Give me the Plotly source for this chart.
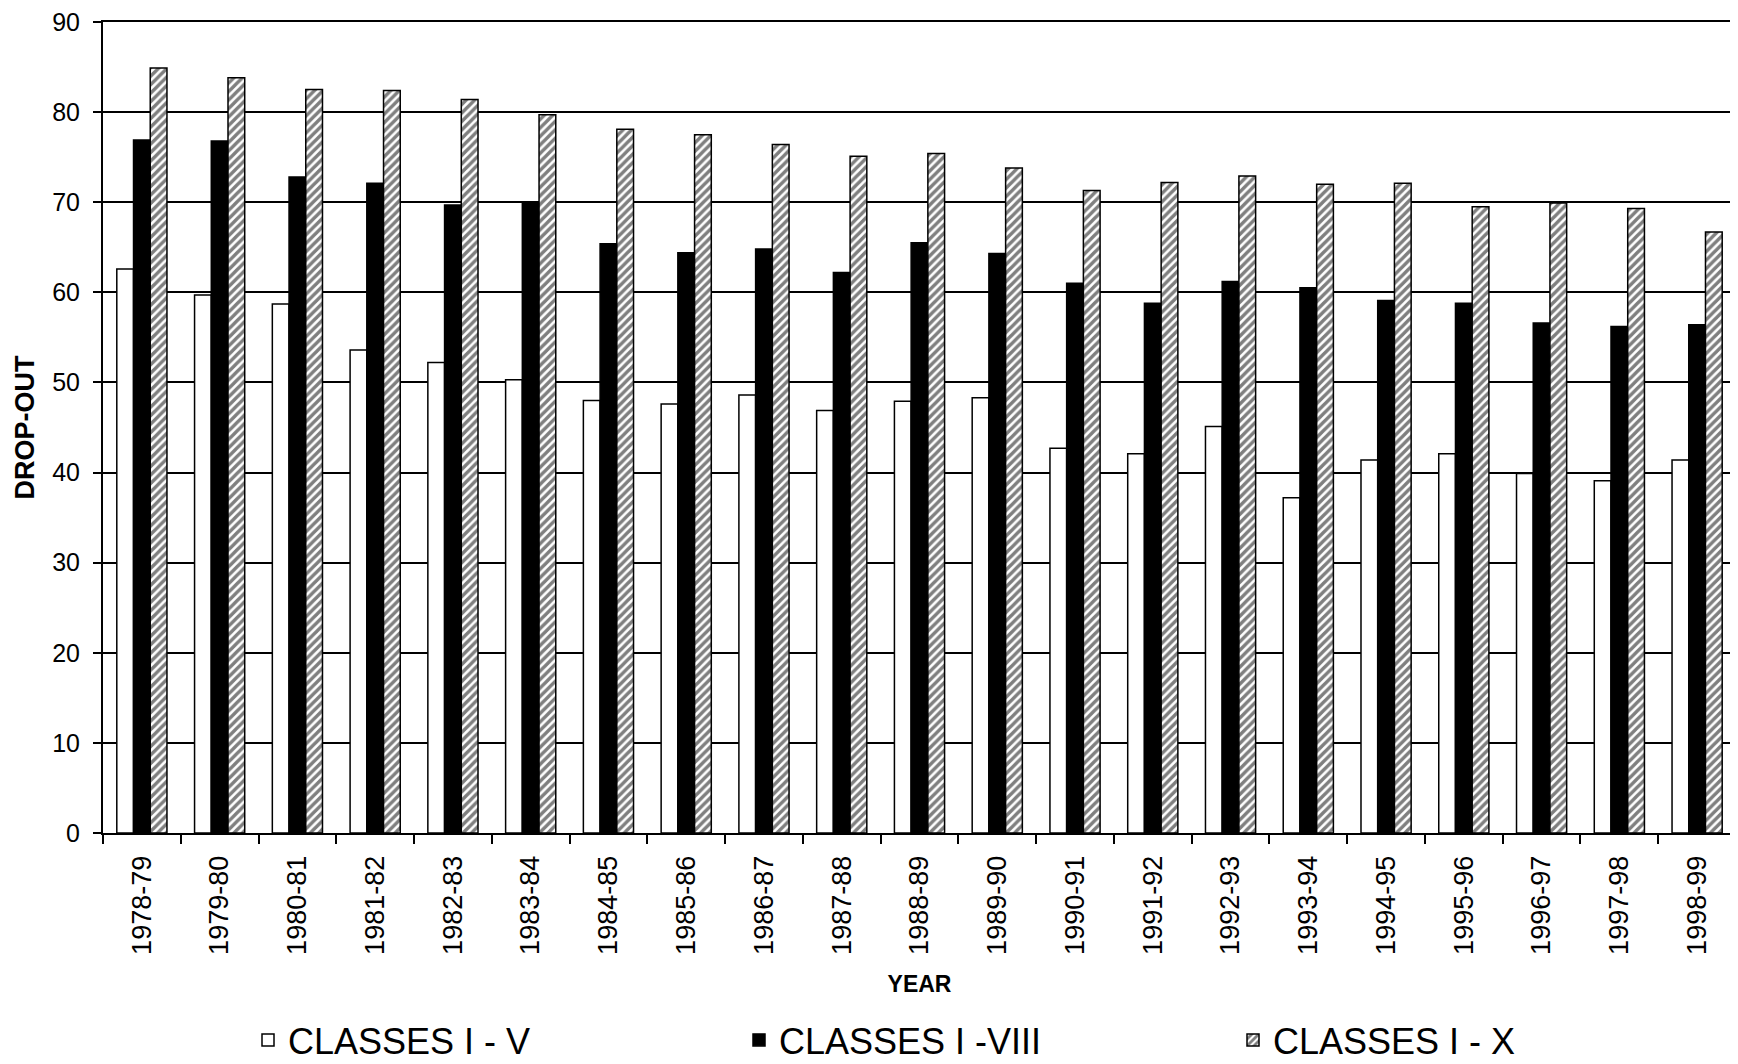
import plotly.graph_objects as go

years = ["1978-79", "1979-80", "1980-81", "1981-82", "1982-83", "1983-84", "1984-85",
         "1985-86", "1986-87", "1987-88", "1988-89", "1989-90", "1990-91", "1991-92",
         "1992-93", "1993-94", "1994-95", "1995-96", "1996-97", "1997-98", "1998-99"]
classes_1_5 = [62.6, 59.7, 58.7, 53.6, 52.2, 50.3, 48.0, 47.6, 48.6, 46.9, 47.9,
               48.3, 42.7, 42.1, 45.1, 37.2, 41.4, 42.1, 39.9, 39.1, 41.4]
classes_1_8 = [76.9, 76.8, 72.8, 72.1, 69.7, 70.0, 65.4, 64.4, 64.8, 62.2, 65.5,
               64.3, 61.0, 58.8, 61.2, 60.5, 59.1, 58.8, 56.6, 56.2, 56.4]
classes_1_10 = [84.9, 83.8, 82.5, 82.4, 81.4, 79.7, 78.1, 77.5, 76.4, 75.1, 75.4,
                73.8, 71.3, 72.2, 72.9, 72.0, 72.1, 69.5, 69.9, 69.3, 66.7]
y_ticks = [0, 10, 20, 30, 40, 50, 60, 70, 80, 90]

FONT = "Liberation Sans, Arial, sans-serif"

fig = go.Figure()
fig.add_trace(go.Bar(
    x=years, y=classes_1_5, name="CLASSES I - V", legend="legend",
    marker=dict(color="white", line=dict(color="black", width=1.5)),
))
fig.add_trace(go.Bar(
    x=years, y=classes_1_8, name="CLASSES I -VIII", legend="legend2",
    marker=dict(color="black", line=dict(color="black", width=1.5)),
))
fig.add_trace(go.Bar(
    x=years, y=classes_1_10, name="CLASSES I - X", legend="legend3",
    marker=dict(color="white", line=dict(color="black", width=1.5),
                pattern=dict(shape="/", fgcolor="black", bgcolor="white",
                             size=6, solidity=0.58)),
))

# the page places the figure 8px in from the top-left corner
W, H = 1730, 1056
L, R, T, B = 95, 2, 14, 231
pw = W - L - R
ph = H - T - B

def px_x(x):
    return (x - L) / pw

def px_y(y):
    return (H - B - y) / ph

leg_common = dict(orientation="h", font=dict(family=FONT, size=36, color="black"),
                  bgcolor="rgba(0,0,0,0)", yanchor="middle", xanchor="left",
                  y=px_y(1032))

fig.update_layout(
    width=W, height=H,
    margin=dict(l=L, r=R, t=T, b=B, autoexpand=False),
    paper_bgcolor="white", plot_bgcolor="white",
    barmode="group", bargap=0.355, bargroupgap=0,
    font=dict(family=FONT, color="black"),
    showlegend=True,
    legend=dict(**leg_common, x=px_x(240)),
    legend2=dict(**leg_common, x=px_x(731)),
    legend3=dict(**leg_common, x=px_x(1225)),
    xaxis=dict(
        type="category", automargin=False,
        tickson="boundaries", ticks="outside", ticklen=9, tickwidth=1.5, tickcolor="black",
        tickangle=-90, tickfont=dict(family=FONT, size=27, color="black"),
        ticklabelstandoff=10,
        showline=True, linecolor="black", linewidth=2, mirror=True,
        showgrid=False,
        title=dict(text="YEAR", font=dict(family=FONT, size=23, color="black", weight="bold"),
                   standoff=22),
    ),
    yaxis=dict(
        range=[0, 90], tickvals=y_ticks, automargin=False,
        ticks="outside", ticklen=8, tickwidth=1.5, tickcolor="black",
        tickfont=dict(family=FONT, size=25, color="black"),
        ticklabelstandoff=8, ticklabeloverflow="allow",
        showline=True, linecolor="black", linewidth=2, mirror=True,
        showgrid=True, gridcolor="black", gridwidth=2,
        zeroline=False,
        title=dict(text="DROP-OUT", font=dict(family=FONT, size=27, color="black", weight="bold"),
                   standoff=10),
    ),
)

fig.write_html("out.html")
